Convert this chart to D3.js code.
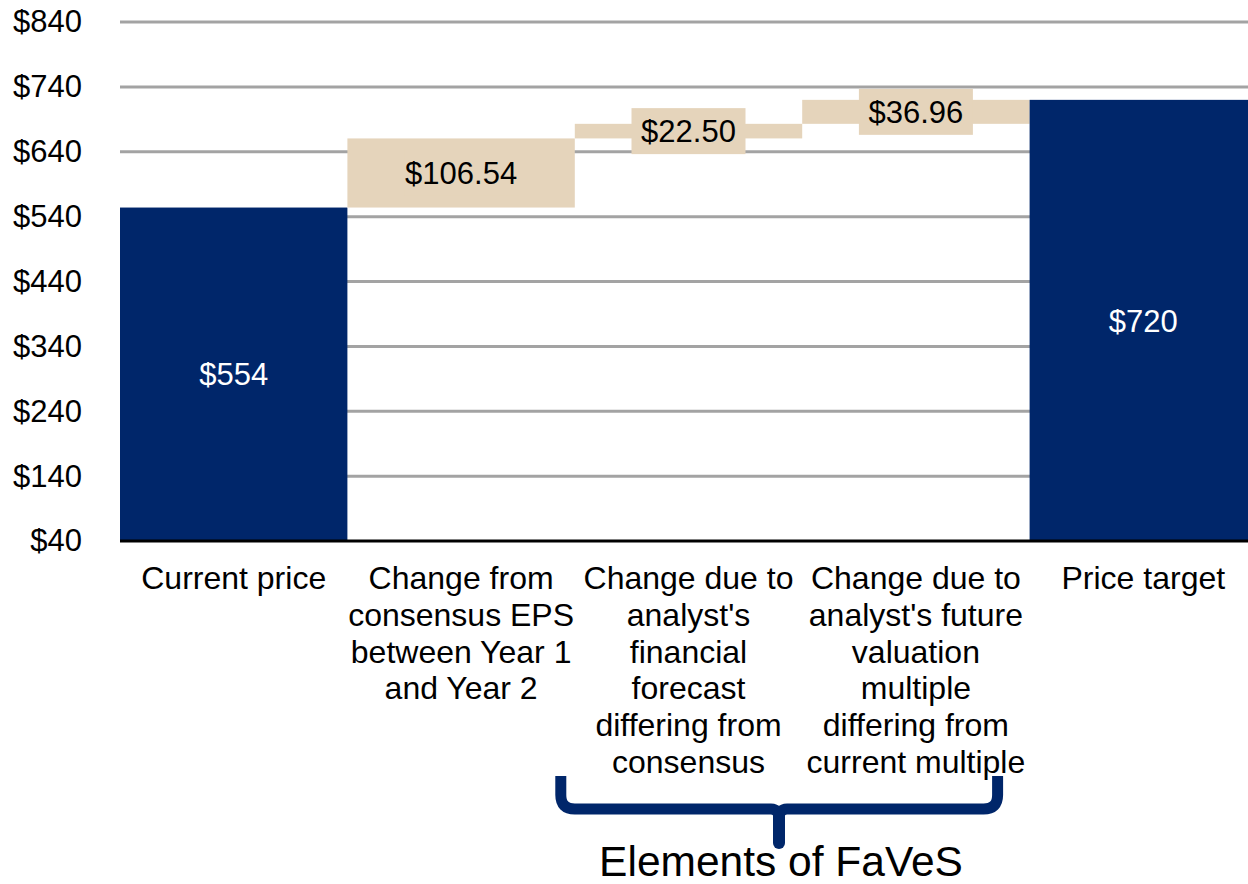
<!DOCTYPE html>
<html lang="en">
<head>
    <meta charset="UTF-8">
    <title>Price target waterfall</title>
    <script src="https://d3js.org/d3.v7.min.js"></script>
    <style>
        body { margin: 0; background: #fff; }
        text { font-family: "Liberation Sans", Arial, sans-serif; }
    </style>
</head>
<body>
<svg></svg>
<script>
    // data
    const categories = [
        "Current price",
        "Change from consensus EPS between Year 1 and Year 2",
        "Change due to analyst's financial forecast differing from consensus",
        "Change due to analyst's future valuation multiple differing from current multiple",
        "Price target"
    ];
    const categoryLines = [
        ["Current price"],
        ["Change from", "consensus EPS", "between Year 1", "and Year 2"],
        ["Change due to", "analyst's", "financial", "forecast", "differing from", "consensus"],
        ["Change due to", "analyst's future", "valuation", "multiple", "differing from", "current multiple"],
        ["Price target"]
    ];
    const values = [554, 106.54, 22.50, 36.96, 720];
    const kinds = ["total", "delta", "delta", "delta", "total"];
    const yTicks = [40, 140, 240, 340, 440, 540, 640, 740, 840];
    const bracketLabel = "Elements of FaVeS";

    const width = 1248, height = 884;
    const navy = "#00266a", tan = "#e5d4bb";

    const svg = d3.select("svg").attr("width", width).attr("height", height);

    const x = d3.scaleBand().domain(categories).range([120, 1257]).padding(0);
    const y = d3.scaleLinear().domain([40, 840]).range([541, 22]);

    // waterfall steps
    let running = 0;
    const bars = categories.map((c, i) => {
        let lo, hi;
        if (kinds[i] === "total") { lo = 40; hi = values[i]; running = values[i]; }
        else { lo = running; hi = running + values[i]; running = hi; }
        return { cat: c, lo, hi, value: values[i], kind: kinds[i] };
    });

    // gridlines
    svg.append("g")
        .selectAll("line")
        .data(yTicks.filter(d => d !== 40))
        .join("line")
        .attr("x1", 120).attr("x2", width)
        .attr("y1", d => y(d)).attr("y2", d => y(d))
        .attr("stroke", "#a3a3a3")
        .attr("stroke-width", 3);

    // y axis labels
    const yAxis = d3.axisLeft(y).tickValues(yTicks).tickFormat(d => "$" + d).tickSize(0).tickPadding(38);
    const gy = svg.append("g").attr("transform", "translate(120,0)").call(yAxis);
    gy.select(".domain").remove();
    gy.selectAll("text").attr("font-size", 31).attr("fill", "#000")
        .style("font-family", "'Liberation Sans', Arial, sans-serif");

    // bars
    svg.append("g")
        .selectAll("rect")
        .data(bars)
        .join("rect")
        .attr("x", d => x(d.cat))
        .attr("width", x.bandwidth())
        .attr("y", d => y(d.hi))
        .attr("height", d => y(d.lo) - y(d.hi))
        .attr("fill", d => d.kind === "total" ? navy : tan);

    // bar labels
    const fmtTotal = d => "$" + d3.format(".0f")(d);
    const fmtDelta = d => "$" + d3.format(".2f")(d);
    const lab = svg.append("g")
        .selectAll("g")
        .data(bars)
        .join("g")
        .attr("transform", d => `translate(${x(d.cat) + x.bandwidth() / 2},${(y(d.lo) + y(d.hi)) / 2})`);
    lab.filter(d => d.kind === "delta")
        .append("rect")
        .attr("x", -57).attr("y", -23)
        .attr("width", 114).attr("height", 46)
        .attr("fill", tan);
    lab.append("text")
        .attr("text-anchor", "middle")
        .attr("dy", "0.36em")
        .attr("font-size", 31)
        .attr("fill", d => d.kind === "total" ? "#fff" : "#000")
        .text(d => d.kind === "total" ? fmtTotal(d.value) : fmtDelta(d.value));

    // x axis line
    svg.append("line")
        .attr("x1", 120).attr("x2", width)
        .attr("y1", y(40)).attr("y2", y(40))
        .attr("stroke", "#000").attr("stroke-width", 3);

    // category labels
    const cl = svg.append("g")
        .selectAll("text")
        .data(categories)
        .join("text")
        .attr("text-anchor", "middle")
        .attr("font-size", 32)
        .attr("fill", "#000")
        .attr("transform", d => `translate(${x(d) + x.bandwidth() / 2},589)`);
    cl.selectAll("tspan")
        .data((d, i) => categoryLines[i])
        .join("tspan")
        .attr("x", 0)
        .attr("y", (d, i) => i * 36.8)
        .text(d => d);

    // bracket under the FaVeS columns
    const bl = x(categories[2]) - 14, br = x(categories[3]) + x.bandwidth() - 32;
    const bm = 779, bTop = 776, bMid = 809, r = 14;
    const bracket = d3.path();
    bracket.moveTo(bl, bTop);
    bracket.lineTo(bl, bMid - r);
    bracket.quadraticCurveTo(bl, bMid, bl + r, bMid);
    bracket.lineTo(bm - 8, bMid);
    bracket.quadraticCurveTo(bm, bMid, bm, bMid + 10);
    bracket.moveTo(br, bTop);
    bracket.lineTo(br, bMid - r);
    bracket.quadraticCurveTo(br, bMid, br - r, bMid);
    bracket.lineTo(bm + 8, bMid);
    bracket.quadraticCurveTo(bm, bMid, bm, bMid + 10);
    bracket.lineTo(bm, 843);
    svg.append("path")
        .attr("d", bracket.toString())
        .attr("fill", "none")
        .attr("stroke", navy)
        .attr("stroke-width", 11)
        .attr("stroke-linejoin", "round");
    svg.append("line")
        .attr("x1", bm).attr("x2", bm).attr("y1", 815).attr("y2", 843)
        .attr("stroke", navy).attr("stroke-width", 12).attr("stroke-linecap", "round");

    svg.append("text")
        .attr("x", bm + 2).attr("y", 876)
        .attr("text-anchor", "middle")
        .attr("font-size", 42.5)
        .attr("fill", "#000")
        .text(bracketLabel);
</script>
</body>
</html>
